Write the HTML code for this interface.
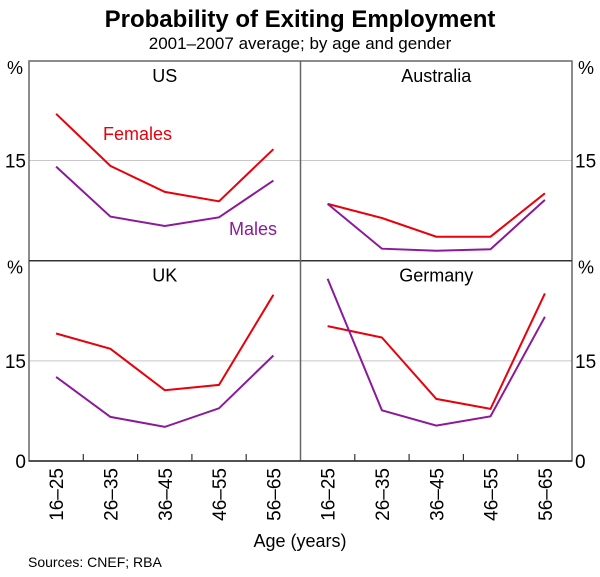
<!DOCTYPE html>
<html><head><meta charset="utf-8">
<style>
body{margin:0;background:#fff;}
svg text{font-family:"Liberation Sans",Arial,sans-serif;}
</style></head>
<body>
<svg id="chart" width="600" height="572" viewBox="0 0 600 572" xmlns="http://www.w3.org/2000/svg">
<text x="300" y="27" text-anchor="middle" font-size="24" font-weight="bold" fill="#000">Probability of Exiting Employment</text>
<text x="300" y="49" text-anchor="middle" font-size="17" fill="#000">2001–2007 average; by age and gender</text>
<g id="grid"></g>
<g id="marks"></g>
<g id="frame"></g>
<text x="103" y="140" font-size="18" fill="#e8000b">Females</text>
<text x="229" y="235" font-size="18" fill="#8b1a9a">Males</text>
<text x="300" y="547" text-anchor="middle" font-size="18" fill="#000">Age (years)</text>
<text x="28" y="567" font-size="14" fill="#000">Sources: CNEF; RBA</text>
</svg>
<script>
const categories = ["16–25","26–35","36–45","46–55","56–65"];
const panels = ["US","Australia","UK","Germany"];
const usFemales = [22.0,14.2,10.3,8.9,16.7];
const usMales = [14.1,6.6,5.2,6.5,12.0];
const auFemales = [8.5,6.4,3.6,3.6,10.1];
const auMales = [8.5,1.8,1.5,1.7,9.1];
const ukFemales = [19.1,16.8,10.6,11.4,24.9];
const ukMales = [12.6,6.6,5.1,7.9,15.8];
const deFemales = [20.2,18.5,9.3,7.8,25.1];
const deMales = [27.3,7.6,5.3,6.7,21.6];
const yTicks = [0,15];
const yMax = 30;

const NS="http://www.w3.org/2000/svg";
const L=29,R=572,MID=300.5,TOP=61,MIDY=260.7,BOT=461;
const panelW=(R-L)/2, catW=panelW/categories.length;
function mk(tag,attrs,parent){const e=document.createElementNS(NS,tag);for(const k in attrs)e.setAttribute(k,attrs[k]);parent.appendChild(e);return e;}
function xScale(col,i){return L+col*panelW+(i+0.5)*catW;}
function yScale(row,v){const base=row===0?MIDY:BOT;return base-v*(BOT-MIDY)/yMax;}
const grid=document.getElementById('grid'),marks=document.getElementById('marks'),frame=document.getElementById('frame');
const svg=document.getElementById('chart');

for(let row=0;row<2;row++){
  yTicks.forEach(t=>{
    const y=yScale(row,t);
    if(t>0){
      const g=mk('line',{x1:L,x2:R,y1:y,y2:y,stroke:'#c8c8c8','stroke-width':1},grid);
      
      
    }
    if(t>0||row===1){
      const a=mk('text',{x:L-3,y:y+7,'text-anchor':'end','font-size':19},svg);a.textContent=t;
      
      
      const b=mk('text',{x:R+3,y:y+7,'text-anchor':'start','font-size':19},svg);b.textContent=t;
      
      
    }
  });
  const top=row===0?TOP:MIDY;
  const p1=mk('text',{x:15,y:top+13,'text-anchor':'middle','font-size':18},svg);p1.textContent='%';
  
  
  const p2=mk('text',{x:586,y:top+13,'text-anchor':'middle','font-size':18},svg);p2.textContent='%';
  
  
}
const fr=mk('rect',{x:L,y:TOP,width:R-L,height:BOT-TOP,fill:'none',stroke:'#666','stroke-width':1.5},frame);


const hl=mk('line',{x1:L,x2:R,y1:MIDY,y2:MIDY,stroke:'#333','stroke-width':1.5},frame);


const vl=mk('line',{x1:MID,x2:MID,y1:TOP,y2:BOT,stroke:'#666','stroke-width':1.5},frame);


const bl=mk('line',{x1:L,x2:R,y1:BOT,y2:BOT,stroke:'#333','stroke-width':1.5},frame);


for(let col=0;col<2;col++){
  for(let i=1;i<categories.length;i++){
    const x=L+col*panelW+i*catW;
    const tk=mk('line',{x1:x,x2:x,y1:BOT-7,y2:BOT,stroke:'#333','stroke-width':1.2},frame);
    
    
  }
  categories.forEach((c,i)=>{
    const x=xScale(col,i);
    const t=mk('text',{x:x+7,y:468,'text-anchor':'end','font-size':19,transform:`rotate(-90 ${x+7} 468)`},svg);
    t.textContent=c;
    
    
  });
}
panels.forEach((p,k)=>{
  const col=k%2,row=Math.floor(k/2);
  const cx=L+col*panelW+panelW/2;
  const top=row===0?TOP:MIDY;
  const t=mk('text',{x:cx,y:top+21,'text-anchor':'middle','font-size':18},svg);
  t.textContent=p;
  
  
});
const series=[
  [0,0,usFemales,'#e8000b','us-females-line'],[0,0,usMales,'#8b1a9a','us-males-line'],
  [1,0,auFemales,'#e8000b','australia-females-line'],[1,0,auMales,'#8b1a9a','australia-males-line'],
  [0,1,ukFemales,'#e8000b','uk-females-line'],[0,1,ukMales,'#8b1a9a','uk-males-line'],
  [1,1,deFemales,'#e8000b','germany-females-line'],[1,1,deMales,'#8b1a9a','germany-males-line']
];
series.forEach(([col,row,vals,color,name])=>{
  const pts=vals.map((v,i)=>xScale(col,i).toFixed(1)+','+yScale(row,v).toFixed(1)).join(' ');
  const pl=mk('polyline',{points:pts,fill:'none',stroke:color,'stroke-width':2,'stroke-linejoin':'miter'},marks);
  
  
});
</script>
</body></html>
